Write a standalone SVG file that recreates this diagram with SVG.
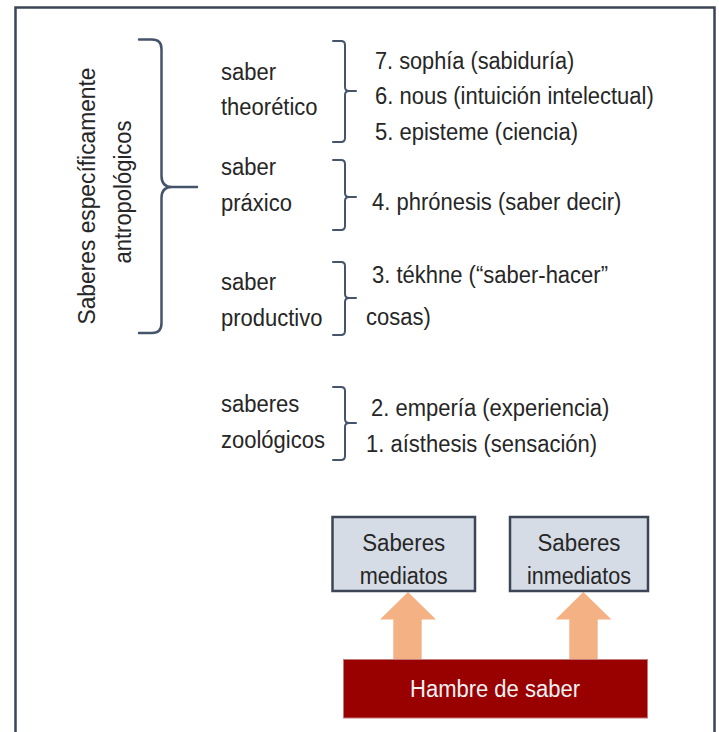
<svg xmlns="http://www.w3.org/2000/svg" width="719" height="732" viewBox="0 0 719 732">
<style>
  text { font-family: "Liberation Sans", Arial, sans-serif; fill: #262626; font-size: 23px; }
  .br { fill: none; stroke: #44546a; stroke-width: 2; stroke-linecap: round; stroke-linejoin: round; }
  .big { stroke-width: 2.5; }
  .box { fill: #d6dce5; stroke: #3b4556; stroke-width: 2.5; }
  .arrow { fill: #f4b183; }
  .mid { text-anchor: middle; }
</style>
<rect x="0" y="0" width="719" height="732" fill="#ffffff"/>
<path d="M15.5,745 V7.5 H714.5 V745" fill="none" stroke="#3b4556" stroke-width="2.5"/>

<g id="antropologicos">
  <path class="br big" d="M139,39.5 H152 Q161.5,39.5 161.5,49 V176 Q161.5,187 172,187 H197 M172,187 Q161.5,187 161.5,198 V323 Q161.5,333 152,333 H139"/>
  <text class="mid" transform="translate(95,196) rotate(-90)" textLength="257" lengthAdjust="spacingAndGlyphs">Saberes específicamente</text>
  <text class="mid" transform="translate(131,192) rotate(-90)" textLength="143" lengthAdjust="spacingAndGlyphs">antropológicos</text>
</g>

<g id="theoretico">
  <text x="221" y="80" textLength="55" lengthAdjust="spacingAndGlyphs">saber</text>
  <text x="221" y="115" textLength="96.6" lengthAdjust="spacingAndGlyphs">theorético</text>
  <path class="br" d="M333,41 H341 Q345,41 345,45 V87 Q345,91 349,91 H356 M349,91 Q345,91 345,95 V138 Q345,142 341,142 H333"/>
  <text x="375" y="69" textLength="199.3" lengthAdjust="spacingAndGlyphs">7. sophía (sabiduría)</text>
  <text x="375" y="104" textLength="278.8" lengthAdjust="spacingAndGlyphs">6. nous (intuición intelectual)</text>
  <text x="375" y="140" textLength="203" lengthAdjust="spacingAndGlyphs">5. episteme (ciencia)</text>
</g>

<g id="praxico">
  <text x="221" y="175" textLength="55" lengthAdjust="spacingAndGlyphs">saber</text>
  <text x="221" y="211" textLength="70.9" lengthAdjust="spacingAndGlyphs">práxico</text>
  <path class="br" d="M333,160 H341 Q345,160 345,164 V193 Q345,197 349,197 H356 M349,197 Q345,197 345,201 V226 Q345,230 341,230 H333"/>
  <text x="372" y="210" textLength="249.4" lengthAdjust="spacingAndGlyphs">4. phrónesis (saber decir)</text>
</g>

<g id="productivo">
  <text x="221" y="290" textLength="55" lengthAdjust="spacingAndGlyphs">saber</text>
  <text x="221" y="326" textLength="101.5" lengthAdjust="spacingAndGlyphs">productivo</text>
  <path class="br" d="M333,262 H341 Q345,262 345,266 V294 Q345,298 349,298 H356 M349,298 Q345,298 345,302 V331 Q345,335 341,335 H333"/>
  <text x="372" y="283" textLength="236" lengthAdjust="spacingAndGlyphs">3. tékhne (“saber-hacer”</text>
  <text x="366" y="325" textLength="64.8" lengthAdjust="spacingAndGlyphs">cosas)</text>
</g>

<g id="zoologicos">
  <text x="221" y="412" textLength="78.3" lengthAdjust="spacingAndGlyphs">saberes</text>
  <text x="221" y="448" textLength="103.9" lengthAdjust="spacingAndGlyphs">zoológicos</text>
  <path class="br" d="M333,387 H341 Q345,387 345,391 V419 Q345,423 349,423 H356 M349,423 Q345,423 345,427 V456 Q345,460 341,460 H333"/>
  <text x="371" y="416" textLength="238.4" lengthAdjust="spacingAndGlyphs">2. empería (experiencia)</text>
  <text x="366" y="452" textLength="231.1" lengthAdjust="spacingAndGlyphs">1. aísthesis (sensación)</text>
</g>

<g id="connectors">
  <path class="arrow" d="M393.3,659 V619.5 H380 L408,592 L436,619.5 H421.7 V659 Z"/>
  <path class="arrow" d="M569.3,659 V619.5 H555.5 L583.3,592 L611.5,619.5 H597.7 V659 Z"/>
</g>

<g id="saberes-mediatos">
  <rect class="box" x="332.5" y="517" width="142.5" height="74"/>
  <text class="mid" x="403.7" y="551" font-size="22" textLength="83" lengthAdjust="spacingAndGlyphs">Saberes</text>
  <text class="mid" x="403.7" y="584" font-size="22" textLength="88" lengthAdjust="spacingAndGlyphs">mediatos</text>
</g>

<g id="saberes-inmediatos">
  <rect class="box" x="510" y="517" width="138" height="74"/>
  <text class="mid" x="579" y="551" font-size="22" textLength="83" lengthAdjust="spacingAndGlyphs">Saberes</text>
  <text class="mid" x="579" y="584" font-size="22" textLength="104" lengthAdjust="spacingAndGlyphs">inmediatos</text>
</g>

<g id="hambre-de-saber">
  <rect x="343.5" y="659.5" width="304" height="58.5" fill="#990000" stroke="#c27a7a" stroke-width="1"/>
  <text class="mid" x="495" y="697" font-size="23" style="fill:#f2f2f2" textLength="170" lengthAdjust="spacingAndGlyphs">Hambre de saber</text>
</g>
</svg>
